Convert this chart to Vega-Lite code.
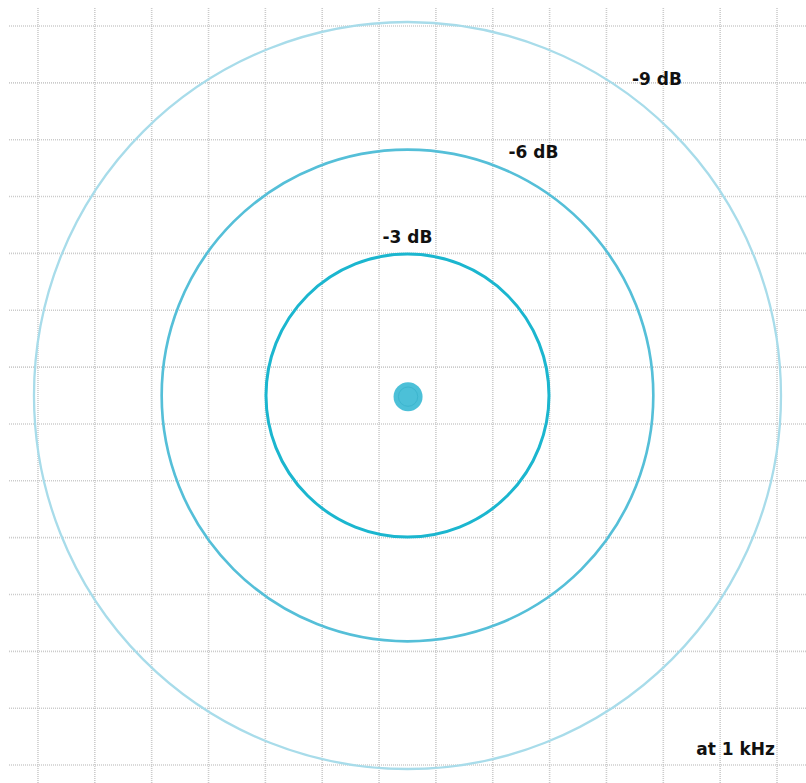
{
  "$schema": "https://vega.github.io/schema/vega-lite/v6.json",
  "width": 806,
  "height": 783,
  "autosize": "none",
  "padding": 0,
  "background": "white",
  "config": {"view": {"stroke": null}},
  "datasets": {
    "vgrid": [
      {"pos": -6.5}, {"pos": -5.5}, {"pos": -4.5}, {"pos": -3.5}, {"pos": -2.5}, {"pos": -1.5}, {"pos": -0.5},
      {"pos": 0.5}, {"pos": 1.5}, {"pos": 2.5}, {"pos": 3.5}, {"pos": 4.5}, {"pos": 5.5}, {"pos": 6.5}
    ],
    "rings": [
      {"level": "-9 dB", "r": 6.57},
      {"level": "-6 dB", "r": 4.324},
      {"level": "-3 dB", "r": 2.489}
    ],
    "labels": [
      {"text": "-3 dB", "x": 0.0, "y": 2.674},
      {"text": "-6 dB", "x": 2.216, "y": 4.169},
      {"text": "-9 dB", "x": 4.389, "y": 5.47},
      {"text": "at 1 kHz", "x": 5.77, "y": -6.33}
    ],
    "source": [{"x": 0.01, "y": -0.02, "r": 0.255, "ring": 0.17}]
  },
  "layer": [
    {
      "data": {"name": "vgrid"},
      "mark": {"type": "rule", "color": "#c2c2c2", "strokeWidth": 1.6, "strokeDash": [1, 1], "opacity": 0.85},
      "encoding": {
        "x": {"field": "pos", "type": "quantitative", "scale": {"domain": [-7.168, 7.01], "nice": false, "zero": false}, "axis": null},
        "y": {"datum": 6.816, "type": "quantitative", "scale": {"domain": [-6.816, 6.957], "nice": false, "zero": false}, "axis": null},
        "y2": {"datum": -6.816}
      }
    },
    {
      "data": {"name": "vgrid"},
      "mark": {"type": "rule", "color": "#c2c2c2", "strokeWidth": 1.6, "strokeDash": [1, 1], "opacity": 0.85},
      "encoding": {
        "y": {"field": "pos", "type": "quantitative", "axis": null},
        "x": {"datum": -7.01, "type": "quantitative", "axis": null},
        "x2": {"datum": 7.01}
      }
    },
    {
      "data": {"name": "rings"},
      "mark": {"type": "point", "shape": "circle", "filled": false, "opacity": 1},
      "encoding": {
        "x": {"datum": 0.0, "type": "quantitative"},
        "y": {"datum": 0.0, "type": "quantitative"},
        "size": {"field": "r", "type": "quantitative", "scale": {"type": "pow", "exponent": 2, "domain": [0, 7], "range": [0, 633457]}, "legend": null},
        "stroke": {"field": "level", "type": "nominal", "scale": {"domain": ["-3 dB", "-6 dB", "-9 dB"], "range": ["#1bb6cf", "#55bfd8", "#a8dcea"]}, "legend": null},
        "strokeWidth": {"field": "level", "type": "nominal", "scale": {"domain": ["-3 dB", "-6 dB", "-9 dB"], "range": [3, 2.3, 1.6]}, "legend": null}
      }
    },
    {
      "data": {"name": "source"},
      "mark": {"type": "point", "shape": "circle", "filled": true, "color": "#42bdd6", "opacity": 0.95},
      "encoding": {
        "x": {"field": "x", "type": "quantitative"},
        "y": {"field": "y", "type": "quantitative"},
        "size": {"field": "r", "type": "quantitative", "legend": null}
      }
    },
    {
      "data": {"name": "source"},
      "mark": {"type": "point", "shape": "circle", "filled": false, "color": "#2aa9c4", "strokeWidth": 1, "opacity": 0.45},
      "encoding": {
        "x": {"field": "x", "type": "quantitative"},
        "y": {"field": "y", "type": "quantitative"},
        "size": {"field": "ring", "type": "quantitative", "legend": null}
      }
    },
    {
      "data": {"name": "labels"},
      "mark": {"type": "text", "font": "DejaVu Sans", "fontWeight": "bold", "fontSize": 17, "align": "center", "baseline": "alphabetic", "color": "#111111"},
      "encoding": {
        "x": {"field": "x", "type": "quantitative"},
        "y": {"field": "y", "type": "quantitative"},
        "text": {"field": "text"}
      }
    }
  ]
}
